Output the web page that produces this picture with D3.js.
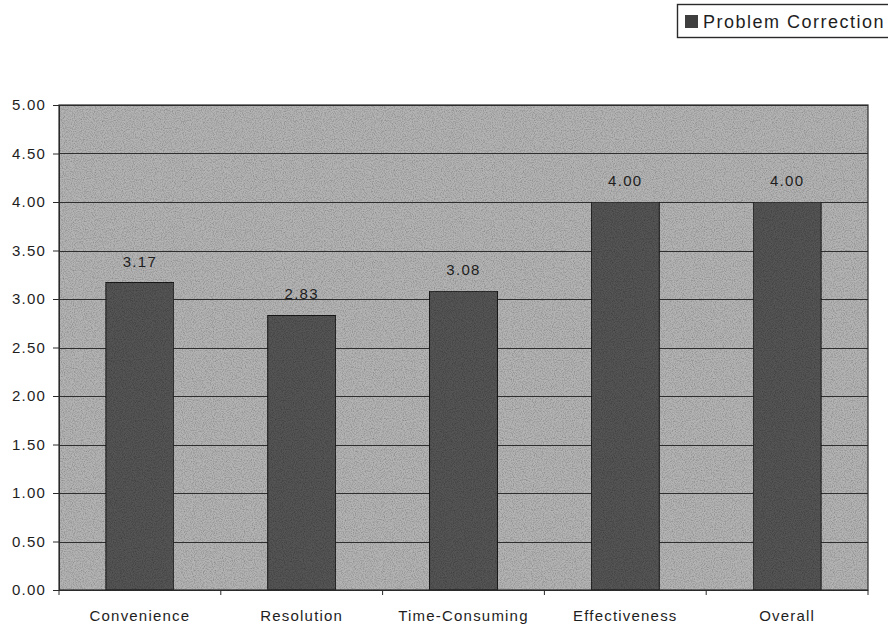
<!DOCTYPE html>
<html>
<head>
<meta charset="utf-8">
<script src="https://cdn.jsdelivr.net/npm/d3@7"></script>
<style>
  html, body { margin: 0; padding: 0; background: #fff; }
  svg { display: block; font-family: "Liberation Sans", Arial, sans-serif; }
</style>
</head>
<body>
<svg id="chart" width="888" height="628"></svg>
<script>
// Mean scores for the "Problem Correction" dimension
const categories = ["Convenience", "Resolution", "Time-Consuming", "Effectiveness", "Overall"];
const values = [3.17, 2.83, 3.08, 4.00, 4.00];
const seriesName = "Problem Correction";
const yTicks = [0, 0.5, 1, 1.5, 2, 2.5, 3, 3.5, 4, 4.5, 5];

const svg = d3.select("#chart");
const margin = { left: 59, right: 20, top: 105, bottom: 38 };
const W = 888, H = 628;
const plotW = W - margin.left - margin.right;
const plotH = H - margin.top - margin.bottom;
const ink = "#1e1e1e";

// Grainy print texture
const defs = svg.append("defs");
const f = defs.append("filter").attr("id", "grain").attr("x", 0).attr("y", 0).attr("width", 1).attr("height", 1);
f.append("feTurbulence").attr("type", "fractalNoise").attr("baseFrequency", 0.9).attr("numOctaves", 2).attr("seed", 3).attr("result", "noise");
f.append("feColorMatrix").attr("in", "noise").attr("type", "matrix")
  .attr("values", "0 0 0 0 0  0 0 0 0 0  0 0 0 0 0  0 0 0 0.9 -0.35").attr("result", "dots");
f.append("feComposite").attr("in", "dots").attr("in2", "SourceGraphic").attr("operator", "in").attr("result", "dm");
f.append("feMerge").selectAll("feMergeNode").data(["SourceGraphic", "dm"]).join("feMergeNode").attr("in", d => d);

const g = svg.append("g").attr("transform", `translate(${margin.left},${margin.top})`);

const x = d3.scaleBand().domain(categories).range([0, plotW]).paddingInner(0.58).paddingOuter(0.29);
const y = d3.scaleLinear().domain([0, 5]).range([plotH, 0]);

// plot background
g.append("rect").attr("width", plotW).attr("height", plotH)
  .attr("fill", "#b4b4b4").attr("filter", "url(#grain)");

// gridlines
g.append("g").selectAll("line").data(yTicks.slice(1)).join("line")
  .attr("x1", 0).attr("x2", plotW)
  .attr("y1", d => Math.round(y(d)) + 0.5).attr("y2", d => Math.round(y(d)) + 0.5)
  .attr("stroke", "#2e2e2e").attr("stroke-width", 1);

// bars
g.append("g").selectAll("rect").data(values).join("rect")
  .attr("x", (d, i) => x(categories[i]))
  .attr("y", d => y(d))
  .attr("width", x.bandwidth())
  .attr("height", d => plotH - y(d))
  .attr("fill", "#545454").attr("stroke", "#1e1e1e").attr("stroke-width", 1)
  .attr("filter", "url(#grain)");

// value labels
g.append("g").selectAll("text").data(values).join("text")
  .attr("x", (d, i) => x(categories[i]) + x.bandwidth() / 2)
  .attr("y", d => y(d) - 16)
  .attr("text-anchor", "middle")
  .attr("font-size", 15).attr("letter-spacing", 1.3).attr("fill", ink)
  .text(d => d.toFixed(2));

// plot frame
g.append("rect").attr("width", plotW).attr("height", plotH)
  .attr("fill", "none").attr("stroke", "#2a2a2a").attr("stroke-width", 1.2);

// y axis
const yAxis = d3.axisLeft(y).tickValues(yTicks).tickFormat(d3.format(".2f")).tickSize(6).tickPadding(12);
const ya = g.append("g").call(yAxis);
ya.select(".domain").attr("stroke", "#2a2a2a");
ya.selectAll(".tick line").attr("stroke", "#2a2a2a");
ya.selectAll("text").attr("font-size", 15).attr("letter-spacing", 1.2).attr("fill", ink)
  .attr("font-family", "'Liberation Sans', Arial, sans-serif").attr("x", -13).attr("text-anchor", "end");

// x axis
const xBounds = d3.scaleLinear().domain([0, categories.length]).range([0, plotW]);
const xa = g.append("g").attr("transform", `translate(0,${plotH})`);
xa.append("path").attr("d", `M0,0.5H${plotW}`).attr("stroke", "#2a2a2a");
xa.selectAll("line").data(d3.range(categories.length + 1)).join("line")
  .attr("x1", d => xBounds(d)).attr("x2", d => xBounds(d))
  .attr("y1", 0).attr("y2", 5).attr("stroke", "#2a2a2a");
xa.selectAll("text").data(categories).join("text")
  .attr("x", d => x(d) + x.bandwidth() / 2)
  .attr("y", 31)
  .attr("text-anchor", "middle")
  .attr("font-size", 15).attr("letter-spacing", 1.2).attr("fill", ink)
  .text(d => d);

// legend
const lg = svg.append("g").attr("transform", "translate(677,4)");
lg.append("rect").attr("x", 0.5).attr("y", 0.5).attr("width", 220).attr("height", 33)
  .attr("fill", "#fff").attr("stroke", "#2a2a2a").attr("stroke-width", 1.4);
lg.append("rect").attr("x", 8).attr("y", 11).attr("width", 13).attr("height", 13).attr("fill", "#3f3f3f");
lg.append("text").attr("x", 26).attr("y", 24).attr("font-size", 18).attr("letter-spacing", 1.5).attr("fill", ink).text(seriesName);
</script>
</body>
</html>
